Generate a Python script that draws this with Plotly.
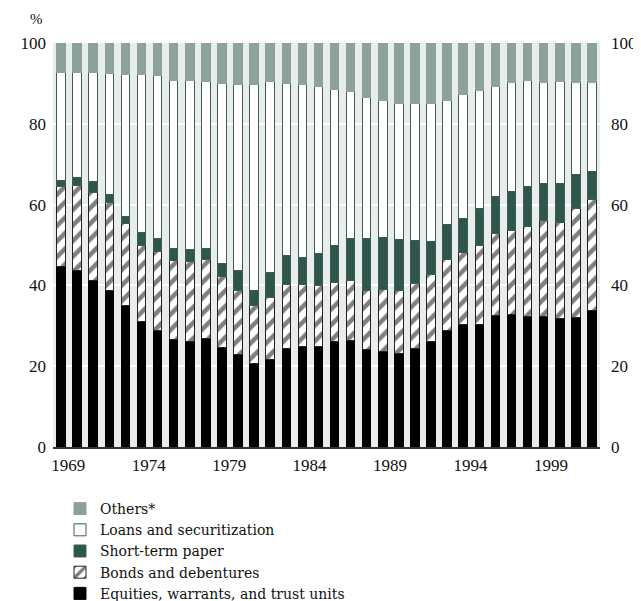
import plotly.graph_objects as go

years = list(range(1969, 2003))
equities = [44.8, 43.8, 41.2, 38.7, 35.1, 31.0, 28.9, 26.6, 26.0, 26.8, 24.6, 23.0,
            20.7, 21.7, 24.5, 24.8, 25.0, 26.0, 26.4, 24.2, 23.6, 23.1, 24.4, 26.0,
            28.9, 30.2, 30.4, 32.6, 32.9, 32.4, 32.2, 31.8, 32.1, 33.9]
bonds = [19.7, 20.9, 21.9, 21.8, 20.3, 19.0, 19.6, 19.5, 19.9, 19.7, 17.5, 15.8,
         14.3, 15.3, 15.8, 15.4, 14.9, 14.8, 14.8, 14.6, 15.4, 15.6, 16.1, 16.6,
         17.6, 17.9, 19.4, 20.3, 20.8, 22.1, 23.8, 23.7, 27.0, 27.3]
short_term = [1.4, 2.1, 2.6, 2.0, 1.6, 3.0, 3.2, 3.1, 2.9, 2.7, 3.4, 5.0,
              3.8, 6.2, 7.0, 6.8, 7.9, 9.2, 10.4, 12.9, 12.9, 12.7, 10.6, 8.2,
              8.5, 8.5, 9.2, 9.1, 9.5, 10.0, 9.3, 9.8, 8.3, 6.9]
loans = [26.7, 25.8, 26.9, 29.9, 35.1, 39.1, 40.3, 41.5, 41.9, 41.2, 44.6, 46.0,
         50.9, 47.3, 42.8, 42.8, 41.5, 38.4, 36.4, 34.7, 33.9, 33.7, 33.9, 34.2,
         30.7, 30.6, 29.3, 27.3, 27.1, 26.2, 25.0, 25.1, 22.9, 22.2]
others = [round(100 - e - b - s - l, 1) for e, b, s, l in zip(equities, bonds, short_term, loans)]

tick_years = [1969, 1974, 1979, 1984, 1989, 1994, 1999]
y_ticks = [0, 20, 40, 60, 80, 100]

FONT = "Liberation Serif"
LEG_FONT = "DejaVu Serif"
edge = dict(color="#3d5c54", width=1)

W, H = 633, 593  # page body has an 8px margin

fig = go.Figure()
fig.add_trace(go.Bar(x=years, y=equities, name="Equities, warrants, and trust units",
                     marker=dict(color="#000000", line=dict(color="#000000", width=1))))
fig.add_trace(go.Bar(x=years, y=bonds, name="Bonds and debentures",
                     marker=dict(color="#ffffff", line=dict(color="#222222", width=1),
                                 pattern=dict(shape="/", fgcolor="#000000", bgcolor="#ffffff",
                                              size=11, solidity=0.42))))
fig.add_trace(go.Bar(x=years, y=short_term, name="Short-term paper",
                     marker=dict(color="#2f564d", line=edge)))
fig.add_trace(go.Bar(x=years, y=loans, name="Loans and securitization",
                     marker=dict(color="#ffffff", line=edge)))
fig.add_trace(go.Bar(x=years, y=others, name="Others*",
                     marker=dict(color="#8ca29a", line=dict(color="#8ca29a", width=1))))

fig.update_layout(
    width=W, height=H,
    barmode="stack", bargap=0.47,
    paper_bgcolor="#ffffff", plot_bgcolor="#e8ecea",
    margin=dict(l=45, r=41, t=35, b=154, autoexpand=False),
    font=dict(family=FONT, size=17, color="#111111"),
    showlegend=True,
    legend=dict(xref="container", yref="container", x=52 / W, y=1 - 485 / H,
                xanchor="left", yanchor="top",
                traceorder="reversed", font=dict(family=LEG_FONT, size=14, color="#111111"),
                bgcolor="rgba(0,0,0,0)", tracegroupgap=0, itemwidth=30),
    xaxis=dict(range=[1968.5, 2002.5], tickmode="array",
               tickvals=[y + 0.45 for y in tick_years], ticktext=[str(y) for y in tick_years],
               showgrid=False, zeroline=False, showline=True, linecolor="#333333",
               linewidth=1.5, ticks="", ticklabelstandoff=2),
    yaxis=dict(range=[0, 100], tickvals=y_ticks, showgrid=True, gridcolor="#ffffff",
               gridwidth=2, zeroline=False, showline=False, ticks="",
               ticklabelstandoff=6),
    yaxis2=dict(range=[0, 100], tickvals=y_ticks, overlaying="y", side="right",
                showgrid=False, zeroline=False, showline=False, ticks="",
                ticklabelstandoff=10),
    annotations=[dict(text="%", xref="paper", yref="paper", x=-0.03, y=1.06,
                      xanchor="center", yanchor="middle", showarrow=False,
                      font=dict(family=FONT, size=15))],
)
fig.add_trace(go.Scatter(x=[years[0]], y=[0], yaxis="y2", mode="markers",
                         marker=dict(opacity=0), showlegend=False, hoverinfo="skip"))

fig.write_html("out.html")
